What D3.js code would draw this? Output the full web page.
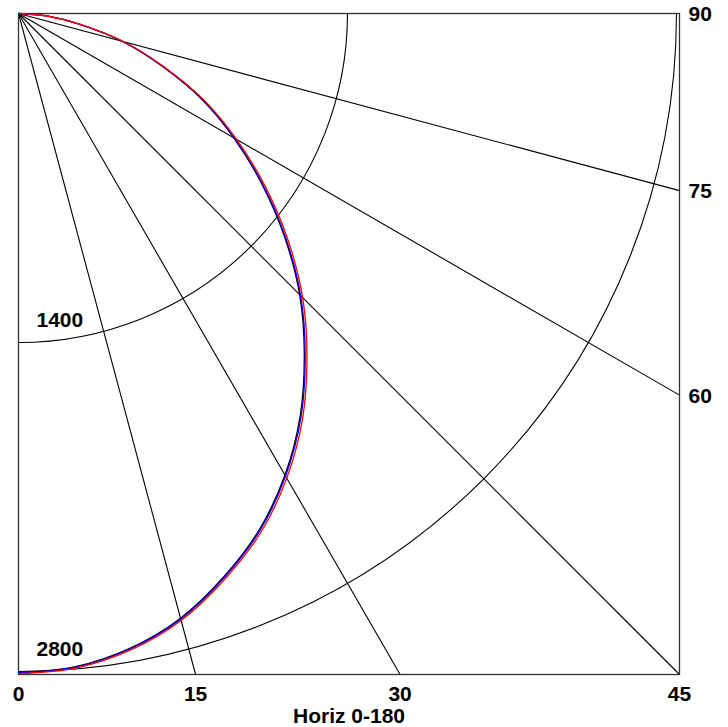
<!DOCTYPE html>
<html>
<head>
<meta charset="utf-8">
<title>Polar intensity</title>
<script src="https://d3js.org/d3.v7.min.js"></script>
<style>
  body { margin: 0; background: #fff; }
  svg text { font-family: Arial, "Liberation Sans", sans-serif; font-weight: bold; font-size: 21px; fill: #000; }
</style>
</head>
<body>
<svg id="chart" width="728" height="727"></svg>
<script>
'use strict';

// Angles in degrees, 0 = straight down, 90 = horizontal.
var angles = [0, 5, 10, 15, 20, 25, 30, 35, 40, 45, 50, 55, 60, 65, 70, 75, 80, 85, 90];

var seriesBlack = [2805, 2790, 2742, 2664, 2552, 2424, 2268, 2090, 1892, 1692, 1478, 1264, 1058, 858, 645, 458, 265, 120, 0];
var seriesBlue  = [2806, 2792, 2745, 2668, 2556, 2429, 2273, 2096, 1898, 1698, 1484, 1270, 1063, 862, 648, 460, 266, 121, 0];
var seriesRed   = [2809, 2796, 2750, 2674, 2563, 2438, 2283, 2107, 1910, 1710, 1496, 1281, 1072, 870, 654, 464, 268, 122, 0];

var spokeAngles = [15, 30, 45, 60, 75];
var bottomTicks = [0, 15, 30, 45];
var rightTicks  = [60, 75, 90];
var rings       = [1400, 2800];
var xLabel      = 'Horiz 0-180';

var ox = 18.5, oy = 13.5, side = 661;

var svg = d3.select('#chart');
var g = svg.append('g').attr('transform', 'translate(' + ox + ',' + oy + ')');

var r = d3.scaleLinear().domain([0, 2800]).range([0, 658]);
// lineRadial angle: 0 = up, clockwise. Our 0 deg points down, turning right.
var a = d3.scaleLinear().domain([0, 90]).range([Math.PI, Math.PI / 2]);

function px(deg, len) { return len * Math.sin(deg * Math.PI / 180); }
function py(deg, len) { return len * Math.cos(deg * Math.PI / 180); }

// Length of a spoke until it hits the square frame.
function spokeLen(deg) {
  var t = deg * Math.PI / 180;
  return side / Math.max(Math.cos(t), Math.sin(t));
}

// Rings
var arc = d3.arc().startAngle(Math.PI / 2).endAngle(Math.PI);
g.selectAll('path.ring')
  .data(rings).enter().append('path')
  .attr('class', 'ring')
  .attr('d', function(d) { return arc({ innerRadius: r(d), outerRadius: r(d) }); })
  .style('fill', 'none')
  .style('stroke', '#000')
  .style('stroke-width', 1.1);

// Spokes
g.selectAll('line.spoke')
  .data(spokeAngles).enter().append('line')
  .attr('class', 'spoke')
  .attr('x1', 0).attr('y1', 0)
  .attr('x2', function(d) { return px(d, spokeLen(d)); })
  .attr('y2', function(d) { return py(d, spokeLen(d)); })
  .style('stroke', '#000')
  .style('stroke-width', 1.1);

// Frame
g.append('rect')
  .attr('x', 0).attr('y', 0)
  .attr('width', side).attr('height', side)
  .style('fill', 'none')
  .style('stroke', '#333')
  .style('stroke-width', 1.3);

// Curves
var line = d3.lineRadial()
  .angle(function(d, i) { return a(angles[i]); })
  .radius(function(d) { return r(d); })
  .curve(d3.curveCardinal);

var curves = [
  { values: seriesBlack, color: '#000' },
  { values: seriesBlue,  color: '#0000ff' },
  { values: seriesRed,   color: '#ff0000' }
];

g.selectAll('path.curve')
  .data(curves).enter().append('path')
  .attr('class', 'curve')
  .attr('d', function(d) { return line(d.values); })
  .style('fill', 'none')
  .style('stroke', function(d) { return d.color; })
  .style('stroke-width', 1.3);

// Angle labels
g.selectAll('text.bt')
  .data(bottomTicks).enter().append('text')
  .attr('class', 'bt')
  .attr('x', function(d) { return px(d, spokeLen(d)); })
  .attr('y', side + 26.5)
  .attr('text-anchor', 'middle')
  .text(function(d) { return d; });

g.selectAll('text.rt')
  .data(rightTicks).enter().append('text')
  .attr('class', 'rt')
  .attr('x', side + 9)
  .attr('y', function(d) { return py(d, spokeLen(d)) + 7.5; })
  .text(function(d) { return d; });

// Ring labels
g.selectAll('text.rl')
  .data(rings).enter().append('text')
  .attr('class', 'rl')
  .attr('x', 18)
  .attr('y', function(d) { return r(d) - 16; })
  .text(function(d) { return d; });

svg.append('text')
  .attr('x', 349)
  .attr('y', 723)
  .attr('text-anchor', 'middle')
  .text(xLabel);
</script>
</body>
</html>
